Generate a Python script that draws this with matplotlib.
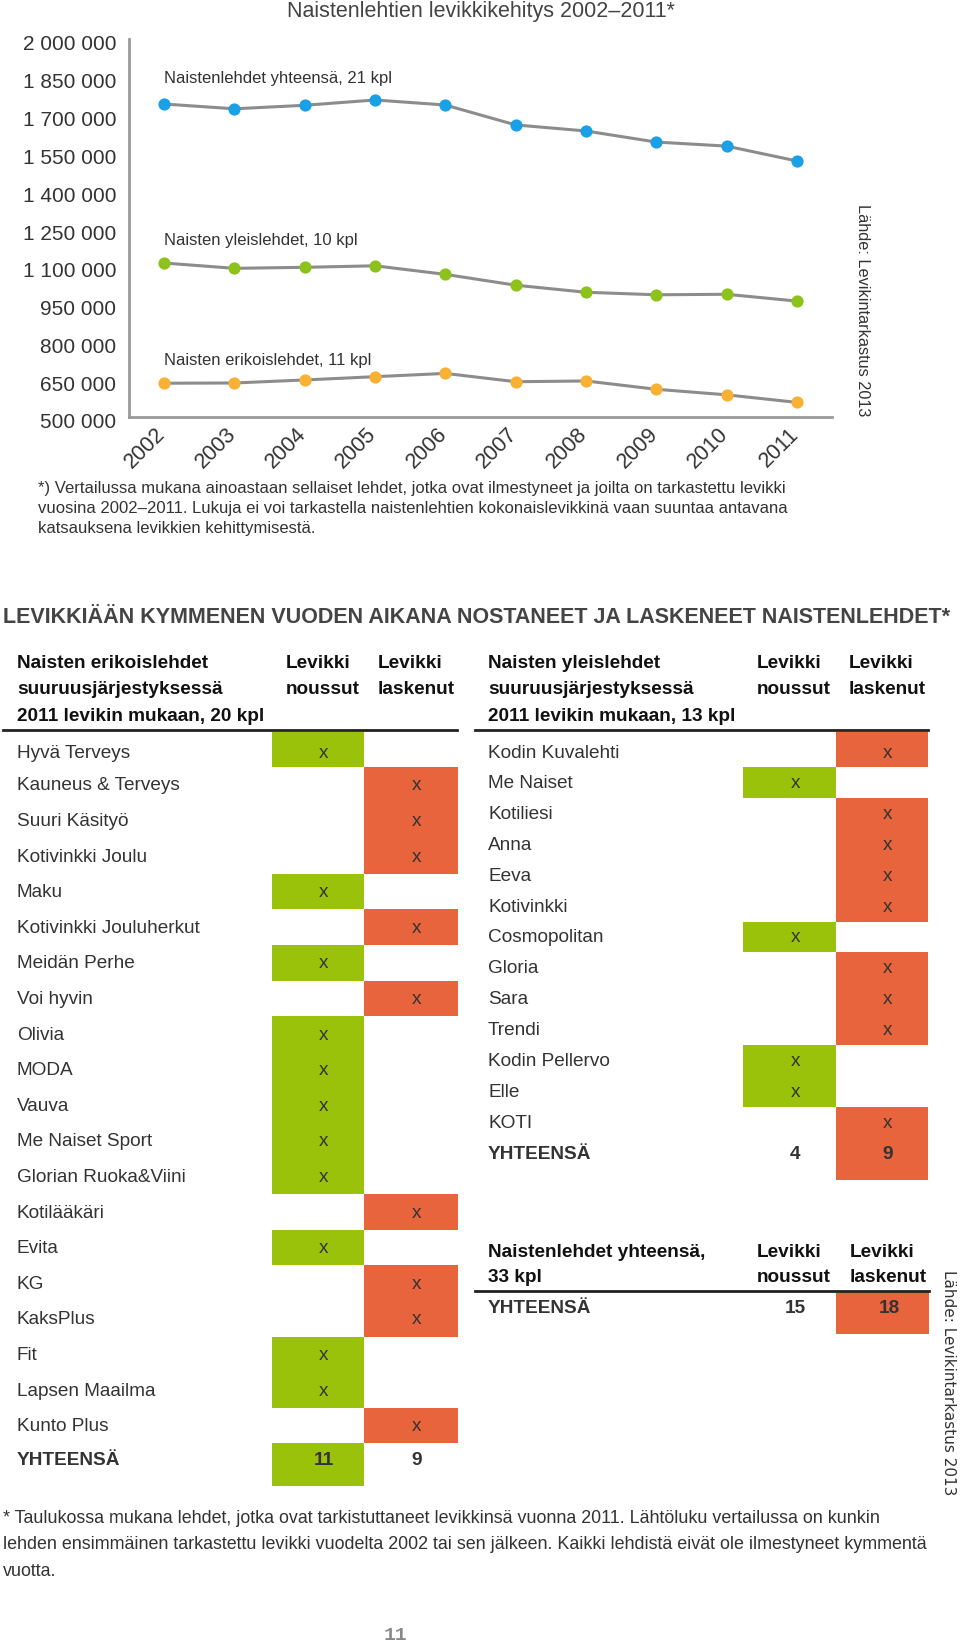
import numpy as np
import matplotlib
matplotlib.use("Agg")
from matplotlib import pyplot as plt
from matplotlib.patches import Rectangle
from matplotlib.transforms import ScaledTranslation

plt.rcParams['font.family'] = ['Liberation Sans', 'DejaVu Sans']

# --- line chart data ---
years = [2002, 2003, 2004, 2005, 2006, 2007, 2008, 2009, 2010, 2011]
total = [1742000, 1723000, 1737000, 1758000, 1738000, 1659000, 1635000, 1591000, 1575000, 1516000]
general = [1111000, 1090000, 1094000, 1100000, 1066000, 1023000, 995000, 985000, 987000, 960000]
special = [634000, 635000, 647000, 660000, 673000, 640000, 643000, 610000, 588000, 558000]
series_names = ["Naistenlehdet yhteensä, 21 kpl", "Naisten yleislehdet, 10 kpl",
                "Naisten erikoislehdet, 11 kpl"]
yticks = list(range(500000, 2000001, 150000))

# --- tables ---
erikois_names = ["Hyvä Terveys", "Kauneus & Terveys", "Suuri Käsityö", "Kotivinkki Joulu", "Maku",
                 "Kotivinkki Jouluherkut", "Meidän Perhe", "Voi hyvin", "Olivia", "MODA", "Vauva",
                 "Me Naiset Sport", "Glorian Ruoka&Viini", "Kotilääkäri", "Evita", "KG", "KaksPlus",
                 "Fit", "Lapsen Maailma", "Kunto Plus"]
erikois_up = [1, 0, 0, 0, 1, 0, 1, 0, 1, 1, 1, 1, 1, 0, 1, 0, 0, 1, 1, 0]
yleis_names = ["Kodin Kuvalehti", "Me Naiset", "Kotiliesi", "Anna", "Eeva", "Kotivinkki",
               "Cosmopolitan", "Gloria", "Sara", "Trendi", "Kodin Pellervo", "Elle", "KOTI"]
yleis_up = [0, 1, 0, 0, 0, 0, 1, 0, 0, 0, 1, 1, 0]

GREEN = '#9bc20a'
RED = '#e8643c'
TXT = '#333333'
BODY = 13.7

fig = plt.figure(figsize=(9.6, 16.44), dpi=100)
W, H = 960, 1644

# chart axes
ax = fig.add_axes([129 / W, 1 - 417 / H, (832 - 129) / W, (417 - 39) / H])
x = np.arange(len(years))
for vals, col in [(total, '#1aa0e6'), (general, '#8cc21a'), (special, '#f8b133')]:
    ax.plot(x, vals, color='#8c8c8c', lw=2.2, zorder=2)
    ax.plot(x, vals, 'o', color=col, ms=8.8, mec='none', zorder=3)
ax.set_xlim(-0.5, 9.5)
ax.set_ylim(500000, 2000000)
ax.set_yticks(yticks)
ax.set_yticklabels([f"{v:,}".replace(",", " ") for v in yticks], fontsize=15, color=TXT)
ax.set_xticks(x)
ax.set_xticklabels([str(y) for y in years], rotation=45, ha='right', rotation_mode='anchor',
                   fontsize=15.5, color=TXT)
ax.tick_params(length=0)
ax.tick_params(axis='y', pad=9)
ax.tick_params(axis='x', pad=5)
for lab in ax.get_yticklabels():
    lab.set_transform(lab.get_transform() + ScaledTranslation(0, -4 / 100, fig.dpi_scale_trans))
for lab in ax.get_xticklabels():
    lab.set_transform(lab.get_transform() + ScaledTranslation(-9 / 100, 0, fig.dpi_scale_trans))
for s in ['top', 'right']:
    ax.spines[s].set_visible(False)
for s in ['left', 'bottom']:
    ax.spines[s].set_color('#999999')
    ax.spines[s].set_linewidth(2)
for name, ly in zip(series_names, [1845000, 1202000, 726000]):
    ax.text(0, ly, name, fontsize=12, color=TXT, va='center', ha='left')

# overlay in pixel coordinates for texts and tables
ov = fig.add_axes([0, 0, 1, 1])
ov.set_xlim(0, W)
ov.set_ylim(H, 0)
ov.axis('off')

ov.text(481, 11, "Naistenlehtien levikkikehitys 2002–2011*", fontsize=15.5, color='#444444',
        ha='center', va='center')
ov.text(863, 310, "Lähde: Levikintarkastus 2013", fontsize=11.7, color=TXT, rotation=270,
        ha='center', va='center')

note1 = ["*) Vertailussa mukana ainoastaan sellaiset lehdet, jotka ovat ilmestyneet ja joilta on tarkastettu levikki",
         "vuosina 2002–2011. Lukuja ei voi tarkastella naistenlehtien kokonaislevikkinä vaan suuntaa antavana",
         "katsauksena levikkien kehittymisestä."]
for i, t in enumerate(note1):
    ov.text(38, 488 + 20 * i, t, fontsize=12, color=TXT, va='center')

ov.text(3, 617, "LEVIKKIÄÄN KYMMENEN VUODEN AIKANA NOSTANEET JA LASKENEET NAISTENLEHDET*",
        fontsize=15.5, fontweight='bold', color='#444444', va='center')


def header(x0, x_up, x_down, lines, y0=663, dy=26.5):
    for i, t in enumerate(lines):
        ov.text(x0, y0 + dy * i, t, fontsize=BODY, fontweight='bold', color='#111111', va='center')
    ov.text(x_up, y0, "Levikki", fontsize=BODY, fontweight='bold', color='#111111', va='center')
    ov.text(x_up, y0 + dy, "noussut", fontsize=BODY, fontweight='bold', color='#111111', va='center')
    ov.text(x_down, y0, "Levikki", fontsize=BODY, fontweight='bold', color='#111111', va='center')
    ov.text(x_down, y0 + dy, "laskenut", fontsize=BODY, fontweight='bold', color='#111111', va='center')


def table(names, ups, x_name, gcol, rcol, step, line_x, first_top=732, top1=767, tot_h=43):
    ov.plot(line_x, [730, 730], color='#222222', lw=2)
    for i, (n, u) in enumerate(zip(names, ups)):
        if i == 0:
            top, h, cy = first_top, top1 - first_top, 753
        else:
            top = top1 + step * (i - 1)
            h = step
            cy = top + step / 2 + 1
        col = gcol if u else rcol
        ov.add_patch(Rectangle((col[0], top), col[1] - col[0], h, color=GREEN if u else RED, lw=0))
        ov.text(x_name, cy, n, fontsize=BODY, color=TXT, va='center')
        ov.text((col[0] + col[1]) / 2 + 6, cy, "x", fontsize=BODY, color=TXT, va='center', ha='center')
    # totals row
    n_up = sum(ups)
    n_down = len(ups) - n_up
    top = top1 + step * (len(names) - 1)
    cy = top + 17
    if n_up > n_down:
        ov.add_patch(Rectangle((gcol[0], top), gcol[1] - gcol[0], tot_h, color=GREEN, lw=0))
    else:
        ov.add_patch(Rectangle((rcol[0], top), rcol[1] - rcol[0], tot_h, color=RED, lw=0))
    ov.text(x_name, cy, "YHTEENSÄ", fontsize=BODY, fontweight='bold', color=TXT, va='center')
    ov.text((gcol[0] + gcol[1]) / 2 + 6, cy, str(n_up), fontsize=BODY, fontweight='bold', color=TXT,
            va='center', ha='center')
    ov.text((rcol[0] + rcol[1]) / 2 + 6, cy, str(n_down), fontsize=BODY, fontweight='bold', color=TXT,
            va='center', ha='center')
    return n_up, n_down


header(17, 286, 378, ["Naisten erikoislehdet", "suuruusjärjestyksessä",
                      f"2011 levikin mukaan, {len(erikois_names)} kpl"])
e_up, e_down = table(erikois_names, erikois_up, 17, (272, 364), (364, 458), 35.6, [3, 457])

header(488, 757, 849, ["Naisten yleislehdet", "suuruusjärjestyksessä",
                       f"2011 levikin mukaan, {len(yleis_names)} kpl"])
y_up, y_down = table(yleis_names, yleis_up, 488, (743, 836), (836, 928), 30.9, [475, 928], tot_h=42)

# grand total
ov.text(488, 1252, "Naistenlehdet yhteensä,", fontsize=BODY, fontweight='bold', color='#111111', va='center')
ov.text(488, 1277, f"{len(erikois_names) + len(yleis_names)} kpl", fontsize=BODY, fontweight='bold',
        color='#111111', va='center')
ov.text(757, 1252, "Levikki", fontsize=BODY, fontweight='bold', color='#111111', va='center')
ov.text(757, 1277, "noussut", fontsize=BODY, fontweight='bold', color='#111111', va='center')
ov.text(850, 1252, "Levikki", fontsize=BODY, fontweight='bold', color='#111111', va='center')
ov.text(850, 1277, "laskenut", fontsize=BODY, fontweight='bold', color='#111111', va='center')
ov.plot([475, 929], [1291, 1291], color='#222222', lw=2)
ov.add_patch(Rectangle((836, 1292), 93, 42, color=RED, lw=0))
ov.text(488, 1308, "YHTEENSÄ", fontsize=BODY, fontweight='bold', color=TXT, va='center')
ov.text(795, 1308, str(e_up + y_up), fontsize=BODY, fontweight='bold', color=TXT, va='center', ha='center')
ov.text(889, 1308, str(e_down + y_down), fontsize=BODY, fontweight='bold', color=TXT, va='center', ha='center')

ov.text(948, 1383, "Lähde: Levikintarkastus 2013", fontsize=11, color=TXT, rotation=270,
        ha='center', va='center', family='DejaVu Sans')

note2 = ["* Taulukossa mukana lehdet, jotka ovat tarkistuttaneet levikkinsä vuonna 2011. Lähtöluku vertailussa on kunkin",
         "lehden ensimmäinen tarkastettu levikki vuodelta 2002 tai sen jälkeen. Kaikki lehdistä eivät ole ilmestyneet kymmentä",
         "vuotta."]
for i, t in enumerate(note2):
    ov.text(3, 1518 + 26.5 * i, t, fontsize=12.9, color=TXT, va='center')

ov.text(395, 1635, "11", fontsize=14, color='#888888', ha='center', va='center',
        family='Liberation Mono', fontweight='bold')

fig.savefig("out.png", dpi=100)
